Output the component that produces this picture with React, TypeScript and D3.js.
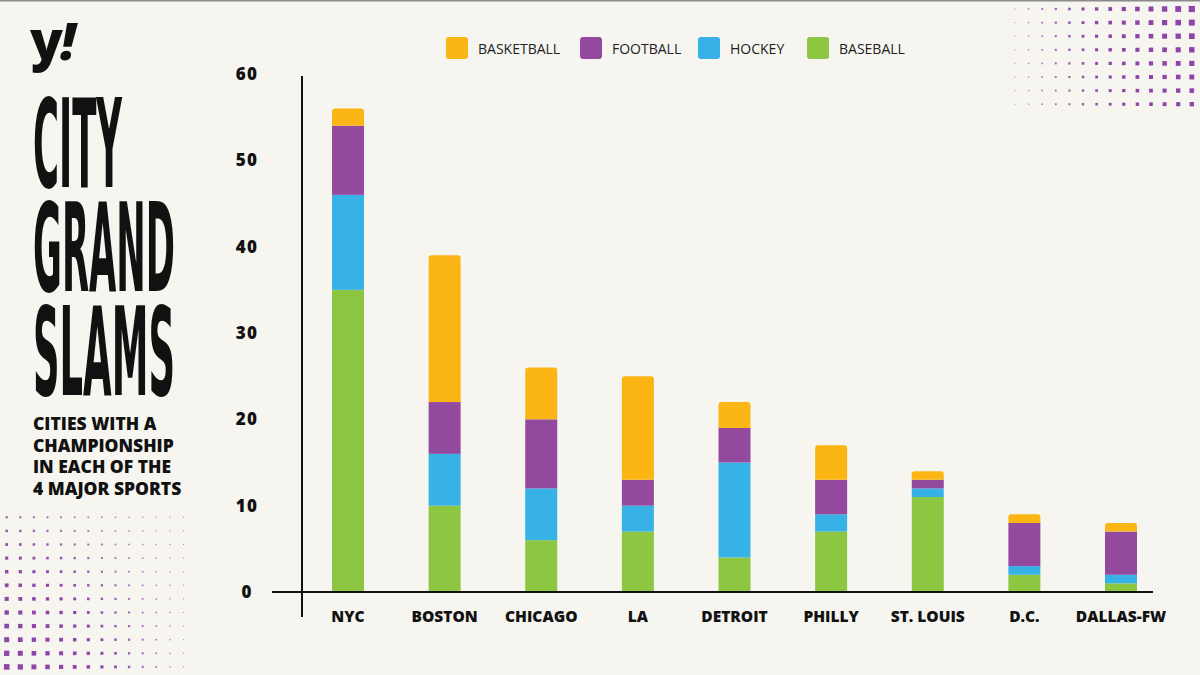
import React, { useLayoutEffect, useRef } from "react";
import * as d3 from "d3";

const cities = ["NYC", "BOSTON", "CHICAGO", "LA", "DETROIT", "PHILLY", "ST. LOUIS", "D.C.", "DALLAS-FW"];
const baseball = [35, 10, 6, 7, 4, 7, 11, 2, 1];
const hockey = [11, 6, 6, 3, 11, 2, 1, 1, 1];
const football = [8, 6, 8, 3, 4, 4, 1, 5, 5];
const basketball = [2, 17, 6, 12, 3, 4, 1, 1, 1];
const yTicks = [0, 10, 20, 30, 40, 50, 60];

const seriesKeys = ["baseball", "hockey", "football", "basketball"];
const legendLabels = ["BASKETBALL", "FOOTBALL", "HOCKEY", "BASEBALL"];
const legendKeys = ["basketball", "football", "hockey", "baseball"];
const colors: Record<string, string> = {
  basketball: "#FBB616",
  football: "#934A9E",
  hockey: "#37B2E7",
  baseball: "#8DC640",
};

const titleLines = ["CITY", "GRAND", "SLAMS"];
const subtitleLines = ["CITIES WITH A", "CHAMPIONSHIP", "IN EACH OF THE", "4 MAJOR SPORTS"];

// layout constants
const W = 1200;
const H = 675;
const legendX = [446, 580, 698, 807];
const titleWidths = [89, 142, 142];
const titleBaselines = [187, 291, 395];
const BAR_W = 32;

function topRoundedRect(x: number, y: number, w: number, h: number, r: number) {
  const rr = Math.min(r, h / 2, w / 2);
  return `M${x},${y + h} L${x},${y + rr} Q${x},${y} ${x + rr},${y} L${x + w - rr},${y} Q${x + w},${y} ${x + w},${y + rr} L${x + w},${y + h} Z`;
}

export default function App() {
  const titleRefs = useRef<(SVGTextElement | null)[]>([]);

  useLayoutEffect(() => {
    titleRefs.current.forEach((el, i) => {
      if (!el) return;
      const natural = el.getComputedTextLength();
      if (natural > 0) {
        const sx = titleWidths[i] / natural;
        el.setAttribute("transform", `translate(33,${titleBaselines[i]}) scale(${sx},1)`);
      }
    });
  }, []);

  const table = cities.map((c, i) => ({
    city: c,
    baseball: baseball[i],
    hockey: hockey[i],
    football: football[i],
    basketball: basketball[i],
  }));
  const stack = d3.stack<any>().keys(seriesKeys);
  const layers = stack(table);

  const x = d3.scalePoint<string>().domain(cities).range([348, 1121]);
  const y = d3.scaleLinear().domain([0, 60]).range([592, 74]);

  // decorative dot grids
  const dotsBL: JSX.Element[] = [];
  for (let c = 0; c < 14; c++) {
    for (let r = 0; r < 12; r++) {
      const cx = 6.7 + 13.6 * c;
      const cy = 517.3 + 13.6 * r;
      const s = 1 + 4.6 * (1 - c / 13) * (0.25 + 0.75 * (r / 11));
      const op = 0.45 + 0.55 * Math.min(1, s / 3);
      dotsBL.push(
        <rect key={`bl${c}-${r}`} x={cx - s / 2} y={cy - s / 2} width={s} height={s} fill="#8E44A8" opacity={op} />
      );
    }
  }
  const dotsTR: JSX.Element[] = [];
  for (let c = 0; c < 14; c++) {
    for (let r = 0; r < 8; r++) {
      const cx = 1015 + 13.6 * c;
      const cy = 9 + 13.6 * r;
      const s = 1 + 5.2 * (c / 13) * (1 - r * 0.05);
      const op = 0.45 + 0.55 * Math.min(1, s / 3);
      dotsTR.push(
        <rect key={`tr${c}-${r}`} x={cx - s / 2} y={cy - s / 2} width={s} height={s} fill="#8E44A8" opacity={op} />
      );
    }
  }

  const boldFont = "'Open Sans', 'DejaVu Sans', sans-serif";

  return (
    <svg
      width={W}
      height={H}
      viewBox={`0 0 ${W} ${H}`}
      style={{ position: "absolute", left: 0, top: 0, display: "block" }}
    >
      <rect x={0} y={0} width={W} height={H} fill="#F6F5F0" />
      <rect x={0} y={0} width={W} height={1.5} fill="#8a8a8a" />

      {dotsBL}
      {dotsTR}

      {/* logo */}
      <text x={30} y={60} fontFamily={boldFont} fontWeight={800} fontSize={54} fill="#111" letterSpacing={-3}>
        y
        <tspan fontStyle="italic" fontSize={52}>
          !
        </tspan>
      </text>

      {/* title */}
      {titleLines.map((t, i) => (
        <text
          key={t}
          ref={(el) => {
            titleRefs.current[i] = el;
          }}
          x={0}
          y={0}
          transform={`translate(33,${titleBaselines[i]}) scale(0.36,1)`}
          fontFamily="'DejaVu Sans Condensed', 'DejaVu Sans', sans-serif"
          fontWeight={700}
          fontSize={123}
          fill="#111"
        >
          {t}
        </text>
      ))}

      <text fontFamily={boldFont} fontWeight={800} fontSize={17.5} fill="#111">
        {subtitleLines.map((t, i) => (
          <tspan key={t} x={33} y={430 + 21.7 * i}>
            {t}
          </tspan>
        ))}
      </text>

      {/* legend */}
      {legendKeys.map((k, i) => (
        <g key={k}>
          <rect x={legendX[i]} y={37} width={22} height={22} rx={3} fill={colors[k]} />
          <text
            x={legendX[i] + 32}
            y={53.5}
            fontFamily={boldFont}
            fontWeight={400}
            fontSize={14}
            fill="#222"
          >
            {legendLabels[i]}
          </text>
        </g>
      ))}

      {/* bars */}
      {layers.map((layer, li) =>
        layer.map((d, i) => {
          const v = d[1] - d[0];
          if (v <= 0) return null;
          const bx = (x(cities[i]) as number) - BAR_W / 2;
          const y0 = y(d[0]);
          const y1 = y(d[1]);
          const isTop = li === layers.length - 1;
          const key = `${layer.key}-${i}`;
          if (isTop) {
            return <path key={key} d={topRoundedRect(bx, y1, BAR_W, y0 - y1, 3)} fill={colors[layer.key]} />;
          }
          return <rect key={key} x={bx} y={y1} width={BAR_W} height={y0 - y1} fill={colors[layer.key]} />;
        })
      )}

      {/* axes */}
      <line x1={302} x2={302} y1={76} y2={617} stroke="#111" strokeWidth={2} />
      <line x1={272} x2={1153} y1={y(0)} y2={y(0)} stroke="#111" strokeWidth={2} />

      {yTicks.map((t) => (
        <text
          key={t}
          x={247}
          y={y(t) + 6}
          textAnchor="middle"
          fontFamily={boldFont}
          fontWeight={800}
          fontSize={17}
          letterSpacing={1.2}
          fill="#111"
        >
          {t}
        </text>
      ))}

      {cities.map((c) => (
        <text
          key={c}
          x={x(c) as number}
          y={622}
          textAnchor="middle"
          fontFamily={boldFont}
          fontWeight={800}
          fontSize={15.5}
          fill="#111"
        >
          {c}
        </text>
      ))}
    </svg>
  );
}
